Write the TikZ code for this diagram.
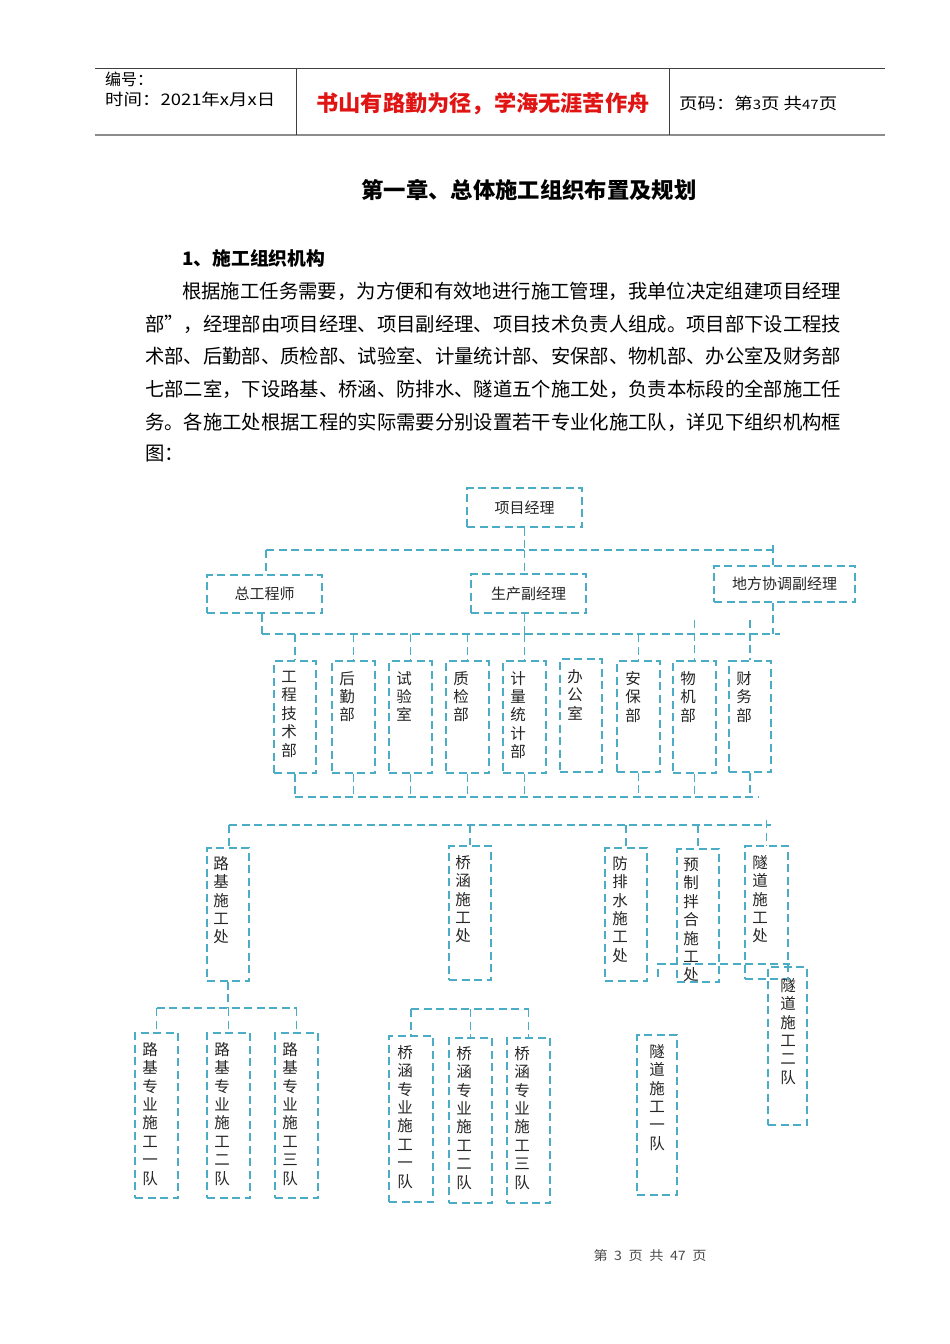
\documentclass[tikz,border=0pt]{standalone}
\usepackage{fontspec}
\usepackage{graphicx}
\setmainfont{Noto Sans CJK SC}
\definecolor{dc}{RGB}{75,172,198}
\definecolor{mottored}{RGB}{225,20,20}
\newcommand\mkbox[5]{\node[box,minimum width={(#4-#2)*1pt},minimum height={(#5-#3)*1pt}] (#1) at ({(#2+#4)/2},{(#3+#5)/2}) {};}
\newcommand\vtx[4]{\node[vt] (#1) at (#2,{#3-7}) {#4};}
\begin{document}
\begin{tikzpicture}[x=1pt,y=-1pt,
  box/.style={draw=dc, line width=1.7pt, dash pattern=on 8pt off 4.5pt, inner sep=0pt},
  conn/.style={draw=dc, line width=1.7pt, dash pattern=on 8pt off 4.5pt},
  lbl/.style={font=\fontsize{15}{18}\selectfont, inner sep=0pt, text=black!85},
  vt/.style={font=\fontsize{15.5}{18.4}\selectfont, inner sep=0pt, align=center, anchor=north, text=black!85},
  para/.style={font=\fontsize{19.4}{22}\selectfont, inner sep=0pt, anchor=west},
  hd/.style={font=\fontsize{16}{18}\selectfont, inner sep=0pt, anchor=west},
]
\useasboundingbox[fill=white] (0,0) rectangle (950,1344);

% ---- header ----
\draw[line width=0.8pt, black!75] (95,68) -- (885,68);
\draw[line width=2pt, black!45] (95,135) -- (885,135);
\draw[line width=0.8pt, black!75] (296,68) -- (296,135);
\draw[line width=0.8pt, black!75] (669,68) -- (669,135);
\node[hd] (h1) at (105,79) {编号：};
\node[hd] (h2) at (105,99) {\resizebox{170pt}{\height}{时间：2021年x月x日}};
\node[inner sep=0pt, font=\fontsize{22}{24}\selectfont\bfseries, text=mottored] (motto) at (483,104) {\resizebox{333pt}{\height}{书山有路勤为径，学海无涯苦作舟}};
\node[hd] (h3) at (679,103) {\resizebox{158pt}{\height}{页码：第{\fontsize{13}{13}\selectfont 3}页 共{\fontsize{13}{13}\selectfont 47}页}};

% ---- title and text ----
\node[inner sep=0pt, font=\fontsize{22}{24}\selectfont\bfseries] (title) at (529,190) {\resizebox{335pt}{\height}{第一章、总体施工组织布置及规划}};
\node[inner sep=0pt, anchor=west, font=\fontsize{18.5}{20}\selectfont\bfseries] (sec) at (182,258) {\resizebox{143pt}{\height}{1、施工组织机构}};
\node[para] (p1) at (182,291) {\resizebox{659pt}{\height}{根据施工任务需要，为方便和有效地进行施工管理，我单位决定组建项目经理}};
\node[para] (p2) at (145,324) {\resizebox{696pt}{\height}{部”，经理部由项目经理、项目副经理、项目技术负责人组成。项目部下设工程技}};
\node[para] (p3) at (145,356) {\resizebox{696pt}{\height}{术部、后勤部、质检部、试验室、计量统计部、安保部、物机部、办公室及财务部}};
\node[para] (p4) at (145,389) {\resizebox{696pt}{\height}{七部二室，下设路基、桥涵、防排水、隧道五个施工处，负责本标段的全部施工任}};
\node[para] (p5) at (145,422) {\resizebox{696pt}{\height}{务。各施工处根据工程的实际需要分别设置若干专业化施工队，详见下组织机构框}};
\node[para] (p6) at (145,454) {图：};

% ---- boxes ----
\mkbox{pm}{467}{488}{582}{527}
\mkbox{ce}{207}{575}{322}{613}
\mkbox{pd}{471}{574}{586}{613}
\mkbox{ld}{714}{566}{855}{602}
\mkbox{d1}{274}{661}{316}{773}
\mkbox{d2}{332}{661}{375}{773}
\mkbox{d3}{389}{661}{432}{773}
\mkbox{d4}{446}{661}{489}{773}
\mkbox{d5}{503}{661}{546}{773}
\mkbox{d6}{560}{659}{602}{772}
\mkbox{d7}{617}{661}{660}{772}
\mkbox{d8}{673}{661}{716}{773}
\mkbox{d9}{729}{661}{771}{772}
\mkbox{rb}{207}{848}{249}{981}
\mkbox{qh}{449}{846}{491}{980}
\mkbox{fp}{605}{848}{647}{981}
\mkbox{yz}{677}{849}{719}{982}
\mkbox{sd}{745}{846}{788}{979}
\mkbox{sd2}{768}{967}{807}{1125}
\mkbox{sd1}{637}{1035}{677}{1195}
\mkbox{r1}{135}{1033}{178}{1198}
\mkbox{r2}{207}{1033}{250}{1198}
\mkbox{r3}{275}{1033}{318}{1198}
\mkbox{q1}{389}{1036}{433}{1202}
\mkbox{q2}{449}{1038}{492}{1203}
\mkbox{q3}{507}{1038}{550}{1203}

% ---- labels ----
\node[lbl] (tpm) at (pm.center) {项目经理};
\node[lbl] (tce) at (ce.center) {总工程师};
\node[lbl] (tpd) at (pd.center) {生产副经理};
\node[lbl] (tld) at (ld.center) {地方协调副经理};
\vtx{td1}{289}{678}{工\\程\\技\\术\\部}
\vtx{td2}{347}{678}{后\\勤\\部}
\vtx{td3}{404}{678}{试\\验\\室}
\vtx{td4}{461}{678}{质\\检\\部}
\vtx{td5}{518}{678}{计\\量\\统\\计\\部}
\vtx{td6}{575}{676}{办\\公\\室}
\vtx{td7}{633}{678}{安\\保\\部}
\vtx{td8}{688}{678}{物\\机\\部}
\vtx{td9}{744}{678}{财\\务\\部}
\vtx{trb}{221}{863}{路\\基\\施\\工\\处}
\vtx{tqh}{463}{862}{桥\\涵\\施\\工\\处}
\vtx{tfp}{620}{863}{防\\排\\水\\施\\工\\处}
\vtx{tyz}{691}{865}{预\\制\\拌\\合\\施\\工\\处}
\vtx{tsd}{760}{862}{隧\\道\\施\\工\\处}
\vtx{tsd2}{788}{985}{隧\\道\\施\\工\\二\\队}
\vtx{tsd1}{657}{1051}{隧\\道\\施\\工\\一\\队}
\vtx{tr1}{150}{1049}{路\\基\\专\\业\\施\\工\\一\\队}
\vtx{tr2}{222}{1049}{路\\基\\专\\业\\施\\工\\二\\队}
\vtx{tr3}{290}{1049}{路\\基\\专\\业\\施\\工\\三\\队}
\vtx{tq1}{405}{1052}{桥\\涵\\专\\业\\施\\工\\一\\队}
\vtx{tq2}{464}{1053}{桥\\涵\\专\\业\\施\\工\\二\\队}
\vtx{tq3}{522}{1053}{桥\\涵\\专\\业\\施\\工\\三\\队}

% ---- connectors ----
\coordinate (b0L) at (266,550);
\coordinate (b0R) at (773,550);
\coordinate (b0T) at (773,545);
\draw[conn] (b0L) -- (b0R);
\draw[conn] (pm.south) -- (pm.south |- b0L);
\draw[conn] (b0L) -- (b0L |- ce.north);
\draw[conn] (pm.south |- b0L) -- (pm.south |- pd.north);
\draw[conn] (b0T) -- (b0T |- ld.north);

\coordinate (b1L) at (262,634);
\coordinate (b1R) at (780,634);
\coordinate (b1T) at (0,620);
\draw[conn] (b1L) -- (b1R);
\draw[conn] (b1L |- ce.south) -- (b1L);
\draw[conn] (pm.south |- pd.south) -- (pm.south |- b1L);
\draw[conn] (b0R |- ld.south) -- (b0R |- b1L);
\foreach \d in {d1,d2,d3,d4,d5,d7} {\draw[conn] (\d.north |- b1L) -- (\d.north);}
\foreach \d in {d8,d9} {\draw[conn] (\d.north |- b1T) -- (\d.north);}

\coordinate (b2L) at (295,797);
\coordinate (b2R) at (758,797);
\draw[conn] (b2L) -- (b2R);
\foreach \d in {d1,d2,d3,d4,d5,d7,d8,d9} {\draw[conn] (\d.south) -- (\d.south |- b2L);}

\coordinate (b3L) at (229,825);
\coordinate (b3R) at (771,825);
\coordinate (b3T) at (0,820);
\draw[conn] (b3L) -- (b3R);
\draw[conn] (b3L) -- (b3L |- rb.north);
\foreach \d in {qh,fp,yz} {\draw[conn] (\d.north |- b3L) -- (\d.north);}
\draw[conn] (sd.north |- b3T) -- (sd.north);

\coordinate (b4) at (0,1008);
\draw[conn] (rb.south) -- (rb.south |- b4);
\draw[conn] (r1.north |- b4) -- (r3.north |- b4);
\foreach \d in {r1,r2,r3} {\draw[conn] (\d.north |- b4) -- (\d.north);}

\coordinate (b5) at (0,1009);
\draw[conn] (q1.north |- b5) -- (q3.north |- b5);
\foreach \d in {q1,q2,q3} {\draw[conn] (\d.north |- b5) -- (\d.north);}

\coordinate (tA) at (658,977);
\coordinate (tB) at (658,964);
\coordinate (tC) at (790,964);
\draw[conn] (tA) -- (tB) -- (tC);

% ---- footer ----
\node[inner sep=0pt, font=\fontsize{13}{15}\selectfont, text=black!70] (foot) at (650,1256) {\resizebox{113pt}{\height}{第\hspace{6pt}3\hspace{6pt}页\hspace{6pt}共\hspace{6pt}47\hspace{6pt}页}};
\end{tikzpicture}
\end{document}
